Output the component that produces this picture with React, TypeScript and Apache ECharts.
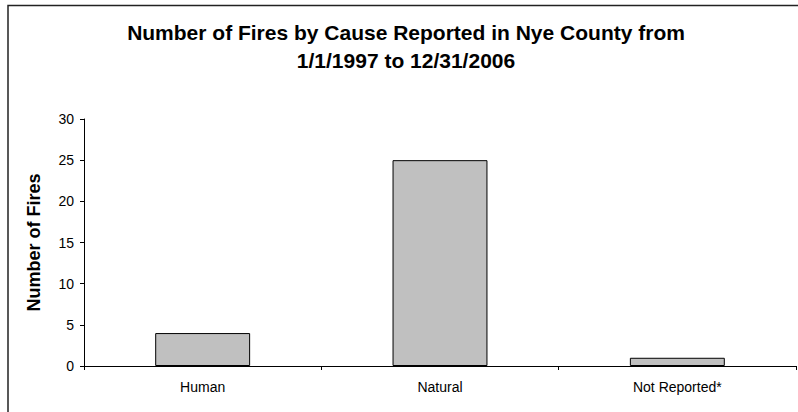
import React, { useEffect, useRef } from "react";
import * as echarts from "echarts";

const categories = ["Human", "Natural", "Not Reported*"];
const fireCounts = [4, 25, 1];
const yTicks = { min: 0, max: 30, interval: 5 };
const titleText = "Number of Fires by Cause Reported in Nye County from\n1/1/1997 to 12/31/2006";
const yAxisTitle = "Number of Fires";

export default function App() {
  const ref = useRef<HTMLDivElement>(null);
  useEffect(() => {
    if (!ref.current) return;
    const chart = echarts.init(ref.current, null, { renderer: "svg" });
    const font = "Arial, 'Liberation Sans', sans-serif";
    chart.setOption({
      animation: false,
      backgroundColor: "#ffffff",
      title: {
        text: titleText,
        left: 406,
        top: 18,
        padding: 0,
        textAlign: "center",
        textStyle: { fontFamily: font, fontSize: 21, fontWeight: "bold", color: "#000", lineHeight: 28 },
      },
      graphic: [
        {
          type: "polyline",
          shape: { points: [[8, 430], [8, 5.5], [820, 5.5]] },
          style: { fill: "none", stroke: "#222", lineWidth: 1.5 },
          silent: true,
          z: 100,
        },
      ],
      grid: { left: 84, right: 2, top: 119, bottom: 46, containLabel: false },
      xAxis: {
        type: "category",
        data: categories,
        boundaryGap: true,
        axisLine: { lineStyle: { color: "#000", width: 1 } },
        axisTick: { show: true, alignWithLabel: false, length: 4, inside: false, lineStyle: { color: "#000" } },
        axisLabel: { fontFamily: font, fontSize: 14, color: "#000", margin: 14 },
        splitLine: { show: false },
      },
      yAxis: {
        type: "value",
        min: yTicks.min,
        max: yTicks.max,
        interval: yTicks.interval,
        name: yAxisTitle,
        nameLocation: "middle",
        nameRotate: 90,
        nameGap: 41,
        nameTextStyle: { fontFamily: font, fontSize: 18, fontWeight: "bold", color: "#000" },
        axisLine: { show: true, lineStyle: { color: "#000", width: 1 } },
        axisTick: { show: true, length: 4, lineStyle: { color: "#000" } },
        axisLabel: { fontFamily: font, fontSize: 14, color: "#000", margin: 10 },
        splitLine: { show: false },
      },
      series: [
        {
          type: "bar",
          data: fireCounts,
          barWidth: "40%",
          itemStyle: { color: "#c0c0c0", borderColor: "#000", borderWidth: 1 },
        },
      ],
    });
    return () => chart.dispose();
  }, []);
  return <div ref={ref} style={{ position: "fixed", left: 0, top: 0, width: 798, height: 412, overflow: "hidden" }} />;
}
